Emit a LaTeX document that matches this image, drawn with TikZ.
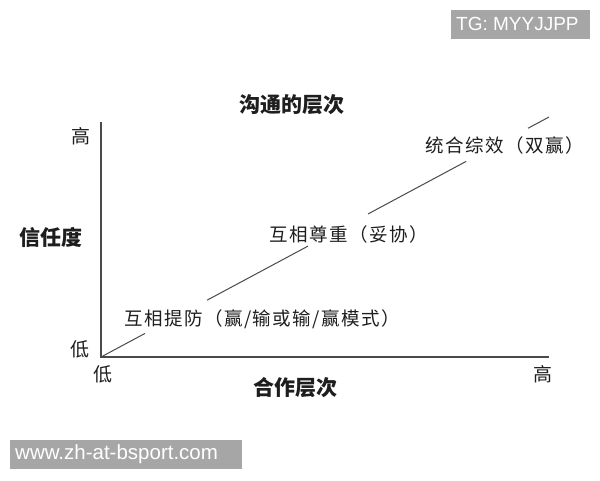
\documentclass[tikz,border=0pt]{standalone}
\usepackage{fontspec}
\usepackage{tikz}
\usetikzlibrary{calc}

\newfontfamily\cjk{Noto Sans CJK SC}
\newfontfamily\cjkwide[LetterSpace=8]{Noto Sans CJK SC}
\newfontfamily\wmfont{Liberation Sans}

\definecolor{axisgray}{HTML}{4A4A4A}
\definecolor{textgray}{HTML}{1E1E1E}
\definecolor{markgray}{HTML}{A6A6A6}

\tikzset{
	level/.style={font=\cjkwide\fontsize{18.5}{21}\selectfont, text=textgray, inner sep=0pt},
	tick/.style={font=\cjk\fontsize{19}{22}\selectfont, text=textgray, inner sep=0pt},
	heading/.style={font=\cjk\bfseries\fontsize{21}{25}\selectfont, text=textgray, inner sep=0pt},
	watermark/.style={text=white, inner sep=0pt, anchor=base west}
}

\begin{document}
\begin{tikzpicture}[x=1pt,y=-1pt]
	
	\useasboundingbox (0,0) rectangle (600,480);
	\fill[white] (0,0) rectangle (600,480);
	
	\coordinate (o) at (101,357);
	\coordinate (ytop) at (101,122);
	\coordinate (xend) at (549,357);
	\coordinate (e) at (549,117);
	\draw[line width=1.3pt, axisgray] (ytop) -- (o) -- (xend);
	
	% diagonal, broken where the levels are written
	\draw[line width=1pt, axisgray] (o) -- ($(o)!0.098!(e)$);
	\draw[line width=1pt, axisgray] ($(o)!0.237!(e)$) -- ($(o)!0.462!(e)$);
	\draw[line width=1pt, axisgray] ($(o)!0.596!(e)$) -- ($(o)!0.815!(e)$);
	\draw[line width=1pt, axisgray] ($(o)!0.953!(e)$) -- (e);
	
	\node[level] (guard) at (262,319) {互相提防（赢/输或输/赢模式）};
	\node[level] (respect) at (349,234) {互相尊重（妥协）};
	\node[level] (synergy) at (505,145) {统合综效（双赢）};
	
	\node[heading] (title) at (292,105) {沟通的层次};
	\node[heading] (trust) at (51,237) {信任度};
	\node[heading] (coop) at (295,388) {合作层次};
	
	\node[tick] (yhigh) at (81,136) {高};
	\node[tick] (ylow) at (80,349) {低};
	\node[tick] (xlow) at (103,374) {低};
	\node[tick] (xhigh) at (543,374) {高};
	
	% watermarks
	\fill[markgray] (451,10) rectangle (590,39);
	\node[watermark, font=\wmfont\fontsize{19}{22}\selectfont] (tg) at (456,30) {TG: MYYJJPP};
	\fill[markgray] (10,440) rectangle (242,469);
	\node[watermark, font=\wmfont\fontsize{20.5}{24}\selectfont] (site) at (15,459) {www.zh-at-bsport.com};
	
\end{tikzpicture}
\end{document}
